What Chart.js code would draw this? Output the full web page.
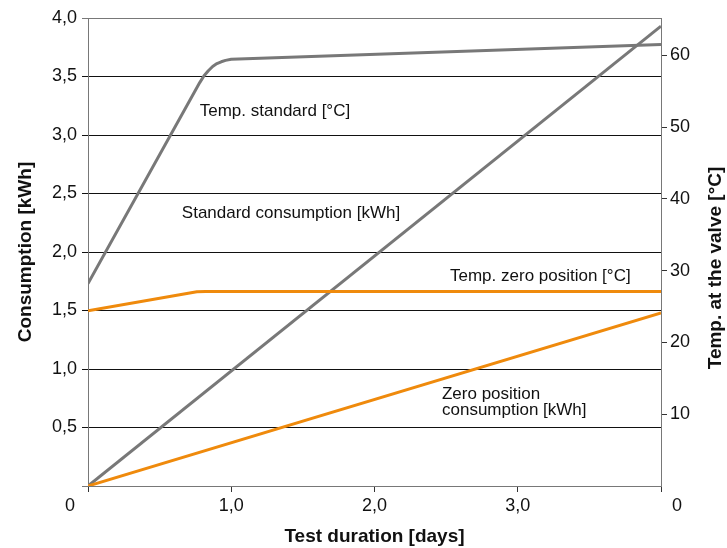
<!DOCTYPE html>
<html>
<head>
<meta charset="utf-8">
<script src="https://cdn.jsdelivr.net/npm/chart.js@4/dist/chart.umd.min.js"></script>
<style>
  body { margin: 0; background: #fff; }
  #wrap { width: 727px; height: 548px; }
</style>
</head>
<body>
<div id="wrap"><canvas id="chart" width="727" height="548"></canvas></div>
<script>
// temperature curves (right axis, °C)
const tempStdDays = [0, 0.78, 0.81, 0.84, 0.87, 0.9, 0.93, 0.96, 1.0, 4.0];
const tempStdVals = [28.2, 56.2, 57.15, 57.85, 58.45, 58.85, 59.1, 59.3, 59.45, 61.5];
const tempZeroDays = [0, 0.7, 0.76, 0.82, 4.0];
const tempZeroVals = [24.4, 26.85, 27.05, 27.1, 27.1];

// consumption lines (left axis, kWh)
const consStdDays = [0, 4.0];
const consStdVals = [0, 3.93];
const consZeroDays = [0, 4.0];
const consZeroVals = [0, 1.48];

const xTicks = [0, 1, 2, 3, 4];
const leftMax = 4.0;
const rightMax = 65.2;

const gray = '#787878';
const orange = '#ef8a0c';
const fontFam = '"Liberation Sans", Arial, Helvetica, sans-serif';

const pts = (xs, ys) => xs.map((x, i) => ({ x: x, y: ys[i] }));
const comma = v => v.toFixed(1).replace('.', ',');

// text labels placed in data coordinates (days, kWh)
const notes = [
  { text: 'Temp. standard [°C]', x: 0.78, y: 3.205 },
  { text: 'Standard consumption [kWh]', x: 0.655, y: 2.33 },
  { text: 'Temp. zero position [°C]', x: 2.527, y: 1.79 },
  { text: 'Zero position', x: 2.471, y: 0.786 },
  { text: 'consumption [kWh]', x: 2.471, y: 0.65 }
];

const extras = {
  id: 'extras',
  afterDraw(chart) {
    const ctx = chart.ctx;
    const xs = chart.scales.x, ys = chart.scales.y;
    ctx.save();
    ctx.fillStyle = '#111';
    ctx.font = '17px ' + fontFam;
    ctx.textBaseline = 'middle';
    ctx.textAlign = 'left';
    notes.forEach(n => ctx.fillText(n.text, xs.getPixelForValue(n.x), ys.getPixelForValue(n.y)));
    // corner zeros
    ctx.font = '18px ' + fontFam;
    ctx.textAlign = 'center';
    const by = ys.getPixelForValue(0) + 20;
    ctx.fillText('0', xs.getPixelForValue(0) - 18, by);
    ctx.fillText('0', xs.getPixelForValue(4) + 16, by);
    // right axis title, reading bottom to top
    ctx.font = 'bold 19px ' + fontFam;
    ctx.translate(716, 268);
    ctx.rotate(-Math.PI / 2);
    ctx.fillText('Temp. at the valve [°C]', 0, 0);
    ctx.restore();
  }
};

new Chart(document.getElementById('chart'), {
  type: 'line',
  data: {
    datasets: [
      { label: 'Temp. zero position [°C]', data: pts(tempZeroDays, tempZeroVals), yAxisID: 'y1', borderColor: orange },
      { label: 'Zero position consumption [kWh]', data: pts(consZeroDays, consZeroVals), yAxisID: 'y', borderColor: orange },
      { label: 'Temp. standard [°C]', data: pts(tempStdDays, tempStdVals), yAxisID: 'y1', borderColor: gray },
      { label: 'Standard consumption [kWh]', data: pts(consStdDays, consStdVals), yAxisID: 'y', borderColor: gray }
    ]
  },
  options: {
    responsive: false,
    animation: false,
    layout: { padding: { top: 18 } },
    elements: {
      line: { borderWidth: 3, tension: 0, fill: false, borderJoinStyle: 'round' },
      point: { radius: 0 }
    },
    plugins: { legend: { display: false }, tooltip: { enabled: false } },
    scales: {
      x: {
        type: 'linear', min: 0, max: 4,
        afterBuildTicks: s => { s.ticks = xTicks.map(v => ({ value: v })); },
        afterFit: s => { s.height = 62; },
        ticks: { callback: v => (v === 0 || v === 4) ? '' : comma(v), color: '#111', font: { size: 18, family: fontFam }, padding: 3, maxRotation: 0 },
        grid: { drawOnChartArea: false, drawTicks: true, tickLength: 6, color: '#333' },
        border: { color: gray, width: 1 },
        title: { display: true, text: 'Test duration [days]', color: '#111', font: { size: 19, weight: 'bold', family: fontFam }, padding: { top: -4, bottom: 0 } }
      },
      y: {
        position: 'left', min: 0, max: leftMax,
        ticks: { stepSize: 0.5, callback: v => v === 0 ? '' : comma(v), color: '#111', font: { size: 18, family: fontFam }, padding: 5 },
        afterFit: s => { s.width = 88; },
        grid: { color: c => (c.tick && (c.tick.value === 0 || c.tick.value === leftMax)) ? gray : '#111', lineWidth: 1, tickLength: 6 },
        border: { color: gray, width: 1 },
        title: { display: true, text: 'Consumption [kWh]', color: '#111', font: { size: 19, weight: 'bold', family: fontFam }, padding: { top: 14, bottom: 0 } }
      },
      y1: {
        position: 'right', min: 0, max: rightMax,
        afterBuildTicks: s => { s.ticks = s.ticks.filter(t => t.value > 0 && t.value % 10 === 0); },
        afterFit: s => { s.width = 66; },
        ticks: { stepSize: 10, color: '#111', font: { size: 18, family: fontFam }, padding: 3 },
        grid: { drawOnChartArea: false, tickLength: 6, color: '#333' },
        border: { color: gray, width: 1 },
        title: { display: false }
      }
    }
  },
  plugins: [extras]
});
</script>
</body>
</html>
